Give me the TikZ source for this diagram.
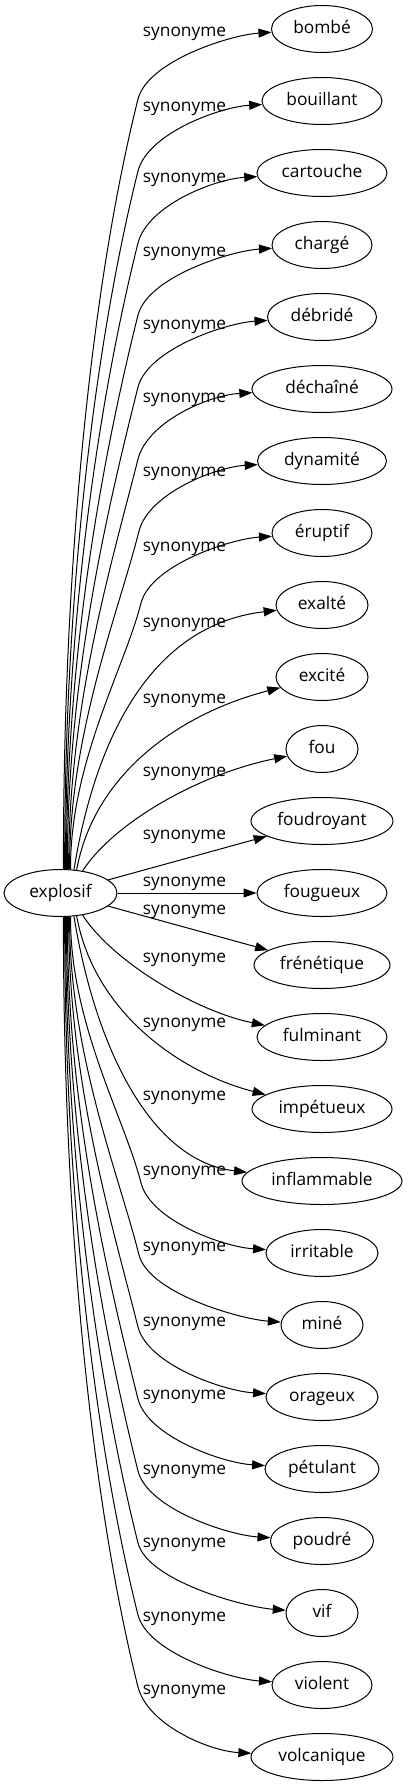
\documentclass[tikz,border=0pt]{standalone}
\usepackage{fontspec}
\setmainfont{Open Sans}
\usetikzlibrary{arrows.meta,shapes.geometric}
\begin{document}
\begin{tikzpicture}[x=1pt,y=-1pt,
  syn/.style={ellipse,draw=black,line width=1pt,inner sep=0pt,minimum height=47pt,
    text height=13pt,text depth=4pt,font=\fontsize{17.3}{20}\selectfont},
  lab/.style={anchor=base,inner sep=0pt,font=\fontsize{17.3}{20}\selectfont},
  conn/.style={draw=black,line width=1pt,-{Triangle[length=13pt,width=9pt]}}]
\useasboundingbox (0,0) rectangle (407,1787);
% nodes
\node[syn,minimum width=113pt] (e) at (60.5,893) {explosif};
\node[syn,minimum width=101pt] (n0) at (322,29) {bombé};
\node[syn,minimum width=120pt] (n1) at (322,101) {bouillant};
\node[syn,minimum width=130pt] (n2) at (322,173) {cartouche};
\node[syn,minimum width=100pt] (n3) at (322,245) {chargé};
\node[syn,minimum width=109pt] (n4) at (322,317) {débridé};
\node[syn,minimum width=140pt] (n5) at (322,389) {déchaîné};
\node[syn,minimum width=129pt] (n6) at (322,461) {dynamité};
\node[syn,minimum width=100pt] (n7) at (322,533) {éruptif};
\node[syn,minimum width=92pt] (n8) at (322,605) {exalté};
\node[syn,minimum width=92pt] (n9) at (322,677) {excité};
\node[syn,minimum width=72pt] (n10) at (322,749) {fou};
\node[syn,minimum width=142pt] (n11) at (322,821) {foudroyant};
\node[syn,minimum width=130pt] (n12) at (322,893) {fougueux};
\node[syn,minimum width=136pt] (n13) at (322,965) {frénétique};
\node[syn,minimum width=130pt] (n14) at (322,1037) {fulminant};
\node[syn,minimum width=140pt] (n15) at (322,1109) {impétueux};
\node[syn,minimum width=160pt] (n16) at (322,1181) {inflammable};
\node[syn,minimum width=112pt] (n17) at (322,1253) {irritable};
\node[syn,minimum width=82pt] (n18) at (322,1325) {miné};
\node[syn,minimum width=112pt] (n19) at (322,1397) {orageux};
\node[syn,minimum width=114pt] (n20) at (322,1469) {pétulant};
\node[syn,minimum width=103pt] (n21) at (322,1541) {poudré};
\node[syn,minimum width=72pt] (n22) at (322,1613) {vif};
\node[syn,minimum width=100pt] (n23) at (322,1685) {violent};
\node[syn,minimum width=142pt] (n24) at (322,1757) {volcanique};
% upper edges
\path[conn] (e.83) .. controls (63,561) and (91.8,283.8) .. (138,99) .. controls (148,61) and (230,35) .. (n0);
\path[conn] (e.80.5) .. controls (64,589.8) and (96.1,338.5) .. (138,171) .. controls (148,133) and (220,107) .. (n1);
\path[conn] (e.78) .. controls (65,618.6) and (100.4,393.2) .. (138,243) .. controls (148,205) and (215,179) .. (n2);
\path[conn] (e.76) .. controls (66,647.4) and (104.8,448) .. (138,315) .. controls (148,277) and (230,251) .. (n3);
\path[conn] (e.74) .. controls (67,676.2) and (109.1,502.7) .. (138,387) .. controls (148,349) and (226,323) .. (n4);
\path[conn] (e.71) .. controls (68,705) and (113.4,557.4) .. (138,459) .. controls (148,421) and (210,395) .. (n5);
\path[conn] (e.69) .. controls (69,733.8) and (118.7,612.1) .. (139,531) .. controls (149,493) and (216,467) .. (n6);
\path[conn] (e.67) .. controls (70,762.6) and (125,666.8) .. (141,603) .. controls (151,565) and (230,539) .. (n7);
\path[conn] (e.60) .. controls (95,740) and (150,625) .. (n8);
\path[conn] (e.55) .. controls (95,770) and (185,712) .. (n9);
\path[conn] (e.45) .. controls (112,825) and (195,775) .. (n10);
\path[conn] (e) -- (n11);
\path[conn] (e) -- (n12);
% lower edges
\path[conn] (e) -- (n13);
\path[conn] (e.-45) .. controls (112,961) and (195,1011) .. (n14);
\path[conn] (e.-55) .. controls (95,1016) and (185,1074) .. (n15);
\path[conn] (e.-60) .. controls (95,1046) and (150,1161) .. (n16);
\path[conn] (e.-67) .. controls (70,1023.4) and (125,1119.2) .. (141,1183) .. controls (151,1221) and (224,1247) .. (n17);
\path[conn] (e.-69) .. controls (69,1052.2) and (118.7,1173.9) .. (139,1255) .. controls (149,1293) and (239,1319) .. (n18);
\path[conn] (e.-71) .. controls (68,1081) and (113.4,1228.6) .. (138,1327) .. controls (148,1365) and (224,1391) .. (n19);
\path[conn] (e.-74) .. controls (67,1109.8) and (109.1,1283.3) .. (138,1399) .. controls (148,1437) and (223,1463) .. (n20);
\path[conn] (e.-76) .. controls (66,1138.6) and (104.8,1338) .. (138,1471) .. controls (148,1509) and (228,1535) .. (n21);
\path[conn] (e.-78) .. controls (65,1167.4) and (100.4,1392.8) .. (138,1543) .. controls (148,1581) and (244,1607) .. (n22);
\path[conn] (e.-80.5) .. controls (64,1196.2) and (96.1,1447.5) .. (138,1615) .. controls (148,1653) and (230,1679) .. (n23);
\path[conn] (e.-83) .. controls (63,1225) and (91.8,1502.2) .. (138,1687) .. controls (148,1725) and (209,1751) .. (n24);
% labels
\node[lab] (l0) at (184.5,36.7) {synonyme};
\node[lab] (l1) at (184.5,111.7) {synonyme};
\node[lab] (l2) at (184.5,182.7) {synonyme};
\node[lab] (l3) at (184.5,256.7) {synonyme};
\node[lab] (l4) at (184.5,329.7) {synonyme};
\node[lab] (l5) at (184.5,402.7) {synonyme};
\node[lab] (l6) at (184.5,476.7) {synonyme};
\node[lab] (l7) at (184.5,551.7) {synonyme};
\node[lab] (l8) at (184.5,627.7) {synonyme};
\node[lab] (l9) at (184.5,703.7) {synonyme};
\node[lab] (l10) at (184.5,776.7) {synonyme};
\node[lab] (l11) at (184.5,839.7) {synonyme};
\node[lab] (l12) at (184.5,886.7) {synonyme};
\node[lab] (l13) at (184.5,914.7) {synonyme};
\node[lab] (l14) at (184.5,962.7) {synonyme};
\node[lab] (l15) at (184.5,1027.7) {synonyme};
\node[lab] (l16) at (184.5,1100.7) {synonyme};
\node[lab] (l17) at (184.5,1175.7) {synonyme};
\node[lab] (l18) at (184.5,1251.7) {synonyme};
\node[lab] (l19) at (184.5,1326.7) {synonyme};
\node[lab] (l20) at (184.5,1399.7) {synonyme};
\node[lab] (l21) at (184.5,1474.7) {synonyme};
\node[lab] (l22) at (184.5,1547.7) {synonyme};
\node[lab] (l23) at (184.5,1621.7) {synonyme};
\node[lab] (l24) at (184.5,1694.7) {synonyme};
\end{tikzpicture}
\end{document}
